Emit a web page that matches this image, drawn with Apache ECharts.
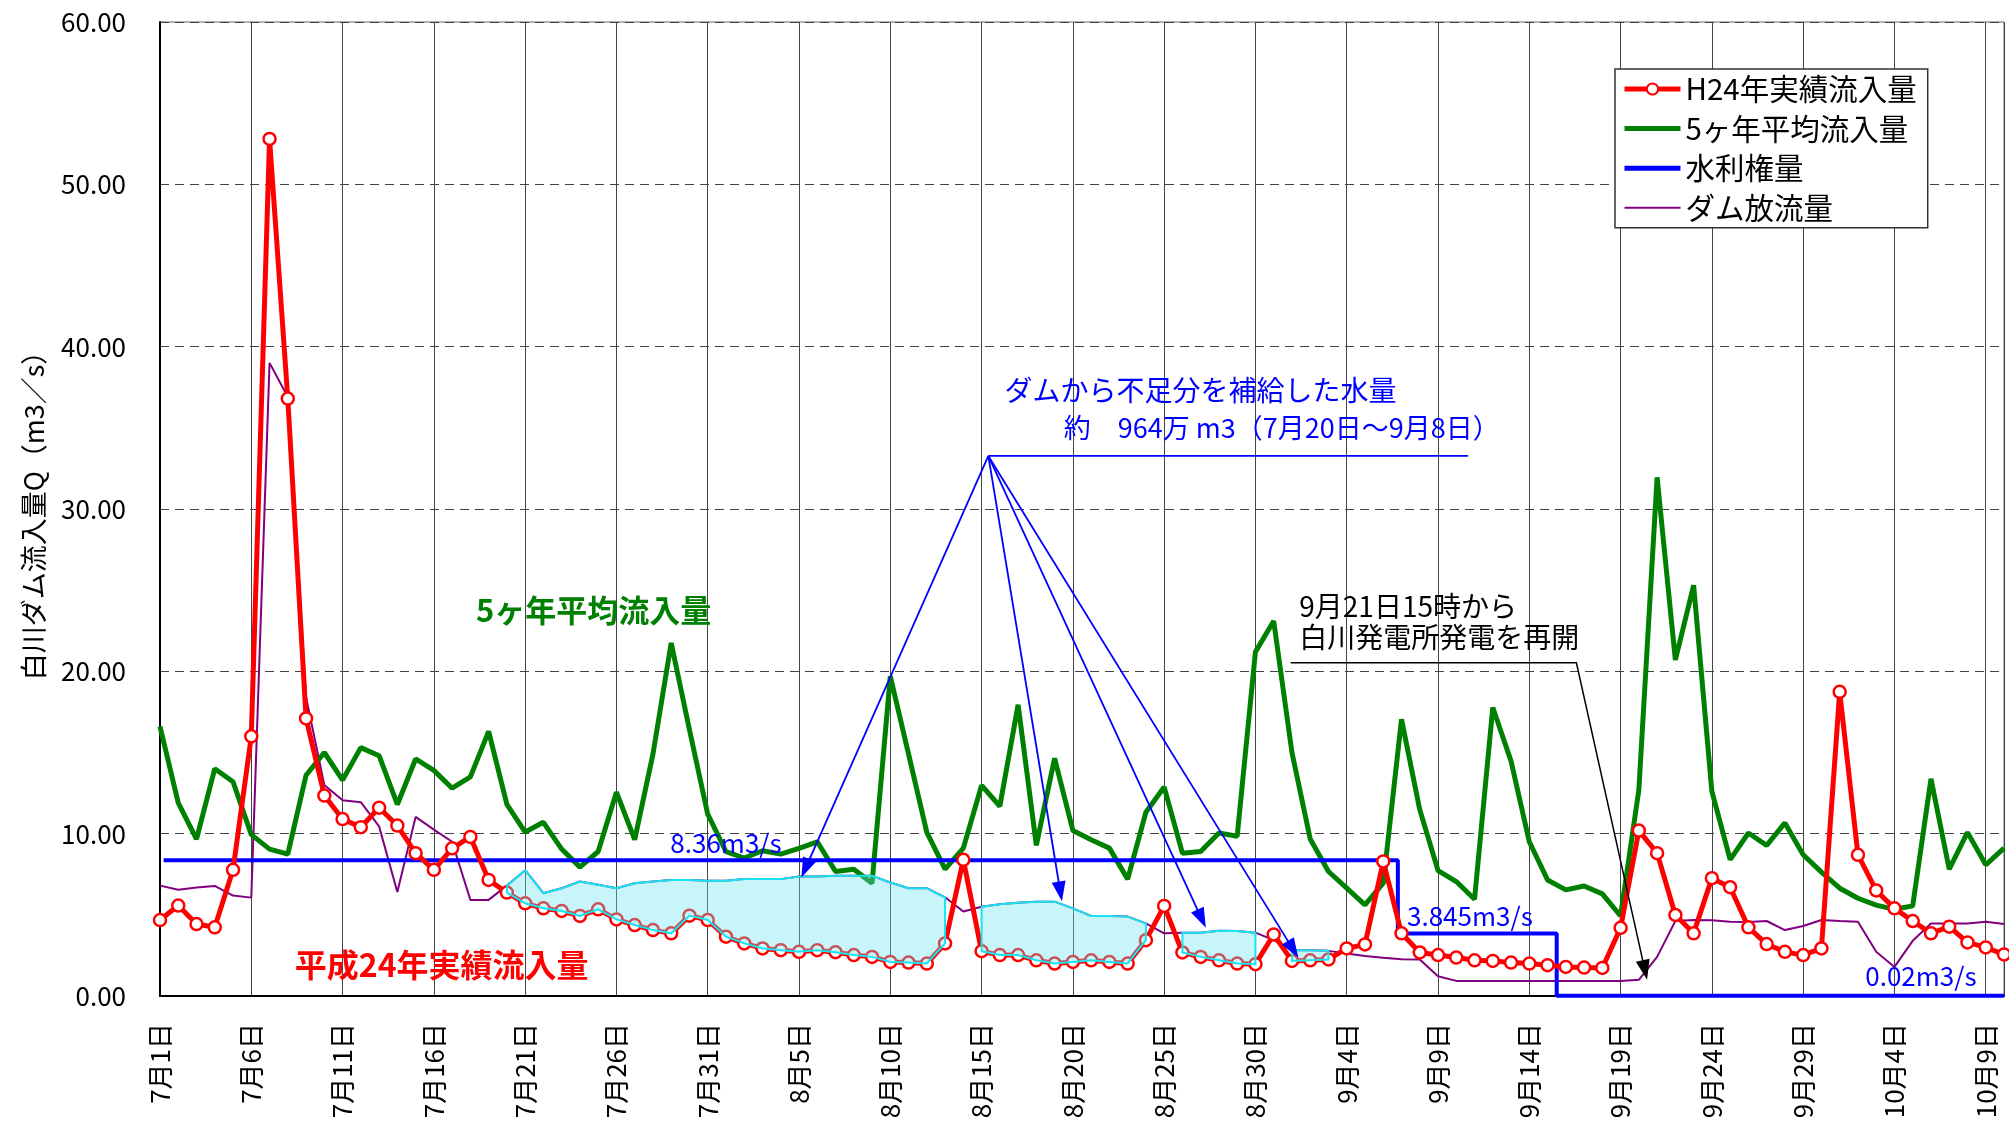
<!DOCTYPE html>
<html><head><meta charset="utf-8">
<script src="https://cdn.jsdelivr.net/npm/echarts@6/dist/echarts.min.js"></script>
<style>html,body{margin:0;padding:0;background:#fff}#c{width:2009px;height:1133px}</style>
</head><body><div id="c"></div>
<script>
// x index 0 = 7月1日 ... 101 = 10月10日
const tickLabels = ['7月1日','7月6日','7月11日','7月16日','7月21日','7月26日','7月31日','8月5日','8月10日','8月15日','8月20日','8月25日','8月30日','9月4日','9月9日','9月14日','9月19日','9月24日','9月29日','10月4日','10月9日'];

const inflowH24 = [4.68,5.57,4.43,4.23,7.77,16.0,52.8,36.8,17.1,12.35,
  10.9,10.4,11.6,10.5,8.8,7.77,9.1,9.8,7.15,6.37,
  5.71,5.4,5.24,4.93,5.34,4.72,4.37,4.06,3.86,4.95,
  4.68,3.65,3.24,2.93,2.82,2.72,2.82,2.7,2.52,2.41,
  2.1,2.06,2.0,3.24,8.39,2.76,2.52,2.52,2.2,2.0,
  2.1,2.2,2.1,2.0,3.44,5.55,2.68,2.41,2.2,2.0,
  1.96,3.79,2.16,2.2,2.25,2.93,3.18,8.29,3.86,2.68,
  2.52,2.37,2.2,2.16,2.06,2.0,1.9,1.79,1.75,1.73,
  4.2,10.19,8.8,4.99,3.86,7.26,6.7,4.23,3.2,2.72,
  2.52,2.93,18.74,8.7,6.5,5.4,4.62,3.86,4.27,3.3,
  2.99,2.56];

const avg5yr = [16.6,11.9,9.67,14.0,13.2,9.94,9.05,8.74,13.6,15.0,
  13.3,15.3,14.8,11.8,14.6,13.9,12.8,13.5,16.3,11.8,
  10.1,10.7,9.05,7.94,8.9,12.56,9.63,14.9,21.75,16.4,
  11.2,8.9,8.5,8.95,8.74,9.1,9.5,7.67,7.81,6.95,
  19.7,14.9,10.08,7.81,9.11,12.97,11.69,17.94,9.28,14.64,
  10.2,9.63,9.11,7.2,11.32,12.87,8.8,8.9,10.04,9.84,
  21.2,23.1,15.0,9.67,7.67,6.64,5.61,6.95,17.05,11.48,
  7.73,7.05,5.96,17.77,14.47,9.5,7.15,6.54,6.78,6.29,
  4.93,12.7,31.95,20.7,25.3,12.6,8.4,10.04,9.28,10.66,
  8.7,7.63,6.64,6.02,5.6,5.34,5.55,13.38,7.81,10.08,
  8.08,9.11];

const damRelease = [6.8,6.54,6.68,6.78,6.19,6.06,39.0,36.9,18.4,13.0,
  12.06,11.94,10.45,6.4,11.03,10.25,9.5,5.92,5.92,6.8,
  7.75,6.33,6.64,7.05,6.85,6.64,6.95,7.05,7.15,7.15,
  7.1,7.1,7.2,7.2,7.2,7.36,7.36,7.4,7.4,7.4,
  6.99,6.64,6.64,6.08,5.2,5.5,5.65,5.75,5.81,5.81,
  5.4,4.93,4.93,4.89,4.47,3.86,3.9,3.9,4.02,4.0,
  3.9,3.44,2.82,2.82,2.78,2.62,2.47,2.35,2.27,2.25,
  1.22,0.93,0.93,0.93,0.93,0.93,0.93,0.93,0.93,0.93,
  0.93,1.0,2.41,4.62,4.68,4.66,4.58,4.56,4.62,4.06,
  4.31,4.68,4.62,4.58,2.72,1.79,3.4,4.47,4.47,4.47,
  4.58,4.43];

const rightsX = [0.2, 67.8, 67.8, 76.5, 76.5, 101];
const rightsY = [8.36, 8.36, 3.845, 3.845, 0.02, 0.02];

// index ranges where the dam supplemented the shortfall
const supplySegments = [[19,43],[45,54],[56,60],[62,64]];

const FONT = 'Noto Sans CJK JP';
const chart = echarts.init(document.getElementById('c'), null, {renderer:'canvas'});
const pairs = arr => arr.map((v,i) => [i, v]);
const noSymbol = {color:'rgba(0,0,0,0)', borderColor:'rgba(0,0,0,0)', borderWidth:0, opacity:0};

const option = {
  animation:false,
  backgroundColor:'#fff',
  textStyle:{fontFamily:FONT},
  grid:{left:160, right:5, top:22, bottom:137, show:true, borderColor:'#666', borderWidth:1},
  legend:{
    data:[
      {name:'H24年実績流入量'},
      {name:'5ヶ年平均流入量', itemStyle:noSymbol},
      {name:'水利権量', itemStyle:noSymbol},
      {name:'ダム放流量', itemStyle:noSymbol, lineStyle:{width:2}}
    ],
    orient:'vertical', left:1615, top:69,
    padding:[5,11,5,7], itemGap:9.6, itemWidth:56, itemHeight:14,
    lineStyle:{width:5},
    backgroundColor:'#fff', borderColor:'#333', borderWidth:1.5,
    textStyle:{fontSize:29.5, color:'#000', fontFamily:FONT, lineHeight:30},
    selectedMode:false
  },
  xAxis:{
    type:'value', min:0, max:101, interval:5,
    axisLine:{show:true, lineStyle:{color:'#000', width:2}},
    axisTick:{show:false},
    axisLabel:{rotate:90, fontSize:26, color:'#000', margin:27, fontFamily:FONT,
      showMaxLabel:false,
      formatter: v => tickLabels[Math.round(v/5)] || ''},
    splitLine:{show:true, lineStyle:{color:'#444', width:1}}
  },
  yAxis:{
    type:'value', min:0, max:60, interval:10,
    name:'白川ダム流入量Q（m3／s）', nameLocation:'middle', nameGap:113,
    nameTextStyle:{fontSize:27, color:'#000', fontFamily:FONT},
    axisLine:{show:true, lineStyle:{color:'#000', width:2}},
    axisTick:{show:false},
    axisLabel:{fontSize:26, color:'#000', margin:34, fontFamily:FONT, formatter: v => v.toFixed(2)},
    splitLine:{show:true, lineStyle:{color:'#444', width:1, type:[9,6]}}
  },
  series:[
    {name:'ダム放流量', type:'line', data:pairs(damRelease), symbol:'none',
     lineStyle:{color:'#800080', width:2}, itemStyle:{color:'#800080'}, silent:true, z:2},
    {name:'5ヶ年平均流入量', type:'line', data:pairs(avg5yr), symbol:'none',
     lineStyle:{color:'#008000', width:5}, itemStyle:{color:'#008000'}, silent:true, z:2},
    {name:'水利権量', type:'line', data:rightsX.map((x,i)=>[x, rightsY[i]]), symbol:'none',
     lineStyle:{color:'#0000ff', width:4}, itemStyle:{color:'#0000ff'}, silent:true, z:2},
    {name:'H24年実績流入量', type:'line', data:pairs(inflowH24), symbol:'circle', symbolSize:12,
     showSymbol:true, lineStyle:{color:'#ff0000', width:5},
     itemStyle:{color:'#ffffff', borderColor:'#ff0000', borderWidth:2.5}, silent:true, z:3},
    {name:'_supply', type:'custom', silent:true, z:4,
     data: supplySegments.map(s => [s[0], s[1]]),
     encode:{x:[0,1]},
     renderItem:(params, api) => {
       const seg = supplySegments[params.dataIndex];
       const pts = [];
       for (let i = seg[0]; i <= seg[1]; i++) pts.push(api.coord([i, damRelease[i]]));
       for (let i = seg[1]; i >= seg[0]; i--) pts.push(api.coord([i, inflowH24[i]]));
       return {type:'polygon', shape:{points:pts},
         style:{fill:'rgba(100,228,240,0.36)', stroke:'#19e3ee', lineWidth:2}};
     }}
  ]
};
chart.setOption(option);

// annotations anchored in data coordinates
const P = (x,y) => chart.convertToPixel({gridIndex:0}, [x, y]);
const notes = [
  {t:'ダムから不足分を補給した水量', x:46.25, y:37.29, c:'#0000ff', s:28, a:'left'},
  {t:'約　964万 m3（7月20日～9月8日）', x:49.5, y:35.0, c:'#0000ff', s:27, a:'left'},
  {t:'9月21日15時から', x:62.4, y:24.0, c:'#000', s:28, a:'left'},
  {t:'白川発電所発電を再開', x:62.4, y:22.08, c:'#000', s:28, a:'left'},
  {t:'5ヶ年平均流入量', x:23.75, y:23.75, c:'#008000', s:31, a:'center', b:'bold'},
  {t:'平成24年実績流入量', x:15.43, y:1.92, c:'#ff0000', s:32, a:'center', b:'bold'},
  {t:'8.36m3/s', x:31.0, y:9.4, c:'#0000ff', s:26, a:'center'},
  {t:'3.845m3/s', x:68.3, y:4.89, c:'#0000ff', s:26, a:'left'},
  {t:'0.02m3/s', x:96.45, y:1.24, c:'#0000ff', s:26, a:'center'}
];
const leaders = [
  {pts:[[71.65,33.27],[45.37,33.27]], c:'#0000ff', w:1.8, arrow:false},
  {pts:[[45.37,33.27],[35.13,7.3]], c:'#0000ff', w:1.8, arrow:true},
  {pts:[[45.37,33.27],[49.4,5.83]], c:'#0000ff', w:1.8, arrow:true},
  {pts:[[45.37,33.27],[57.28,4.2]], c:'#0000ff', w:1.8, arrow:true},
  {pts:[[45.37,33.27],[62.35,2.35]], c:'#0000ff', w:1.8, arrow:true},
  {pts:[[61.93,20.53],[77.58,20.53],[81.45,1.0]], c:'#000', w:1.5, arrow:true}
];
const graphics = [];
leaders.forEach(l => {
  const px = l.pts.map(p => P(p[0], p[1]));
  const n = px.length;
  if (l.arrow) {
    const a = px[n-2], b = px[n-1];
    const dx = b[0]-a[0], dy = b[1]-a[1], len = Math.hypot(dx, dy);
    const ux = dx/len, uy = dy/len, L = 20, W = 14;
    const bx = b[0]-ux*L, by = b[1]-uy*L;
    graphics.push({type:'polygon', z:101, silent:true,
      shape:{points:[[b[0],b[1]],[bx-uy*W/2, by+ux*W/2],[bx+uy*W/2, by-ux*W/2]]},
      style:{fill:l.c}});
    px[n-1] = [b[0]-ux*L*0.6, b[1]-uy*L*0.6];
  }
  graphics.push({type:'polyline', z:100, silent:true, shape:{points:px},
    style:{stroke:l.c, lineWidth:l.w, fill:null}});
});
notes.forEach(n => {
  const p = P(n.x, n.y);
  graphics.push({type:'text', x:p[0], y:p[1], z:102, silent:true,
    style:{text:n.t, fill:n.c, font:(n.b||'normal')+' '+n.s+'px "'+FONT+'"',
      textAlign:n.a, textVerticalAlign:'middle'}});
});
chart.setOption({graphic:graphics});
</script></body></html>
